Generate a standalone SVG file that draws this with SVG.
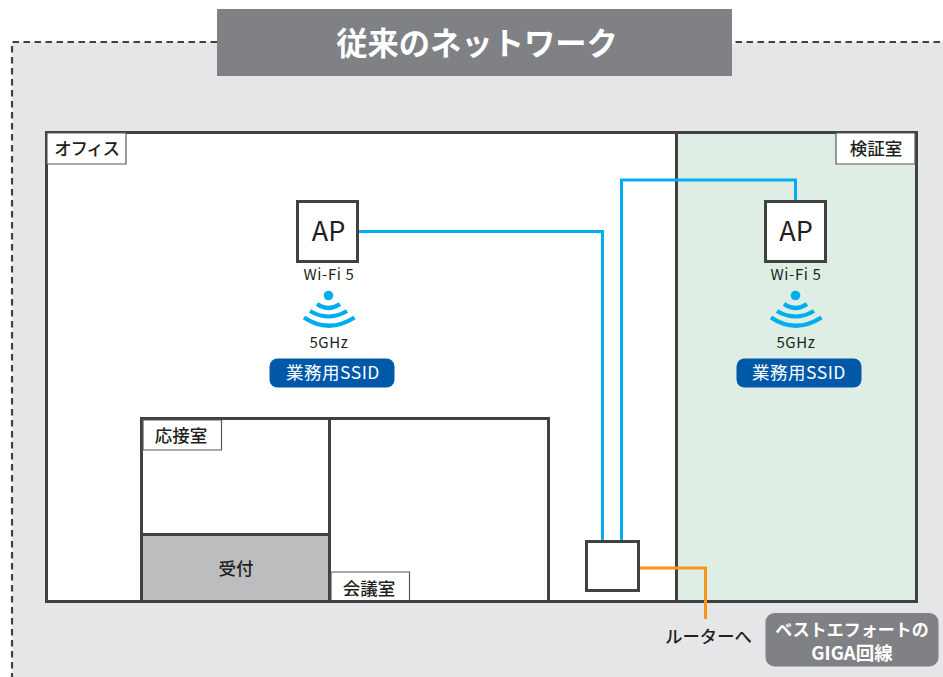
<svg xmlns="http://www.w3.org/2000/svg" width="943" height="677" viewBox="0 0 943 677">
<style>
text{font-family:"Noto Sans CJK JP","Noto Sans",sans-serif;text-anchor:middle;fill:#231f20}
.room{stroke:#414141;stroke-width:3;fill:#fff}
.tag{fill:#fff;stroke:#595959;stroke-width:1.2}
.blue{fill:none;stroke:#00aeef;stroke-width:3}
.org{fill:none;stroke:#f7941d;stroke-width:3}
.wifi{fill:none;stroke:#00aeef;stroke-width:4.200}
.lab{font-size:17.500px;font-weight:500}
.small{font-size:15px;letter-spacing:.6px}
.ssid{font-size:17.500px;fill:#fff;letter-spacing:.5px}
.ap{font-size:27px}
.badge{fill:#fff;font-weight:700}
.dash{fill:none;stroke:#414141;stroke-width:2.200;stroke-dasharray:6.500 4.500}
</style>
<g id="background">
<rect x="12" y="42" width="931" height="635" fill="#e5e6e8"/>
<rect x="732" y="41" width="3.500" height="3" fill="#fff"/>
<path class="dash" d="M217 42H12V677"/>
<path class="dash" d="M735.500 42H943"/>
</g>
<g id="title">
<rect x="217" y="9" width="515" height="67" fill="#808184"/>
<text x="477" y="55" style="fill:#fff;font-size:31.300px;font-weight:700">従来のネットワーク</text>
</g>
<g id="office">
<rect class="room" x="46.500" y="132.500" width="630" height="469"/>
<path class="tag" d="M47 164H126V133H47Z"/>
<text x="86.500" y="155" class="lab" style="letter-spacing:-1.300px">オフィス</text>
</g>
<g id="lab-room">
<rect x="676.500" y="132.500" width="240" height="469" fill="#dfeee4" stroke="#414141" stroke-width="3"/>
<path class="tag" d="M915 164H836V133H915Z"/>
<text x="876" y="155" class="lab">検証室</text>
</g>
<g id="reception-room">
<rect class="room" x="141.500" y="418.500" width="188" height="116"/>
<path class="tag" d="M143 450H221.500V420H143Z"/>
<text x="181" y="441.500" class="lab">応接室</text>
</g>
<g id="front-desk">
<rect x="141.500" y="534.500" width="188" height="67" fill="#bbbdbf" stroke="#414141" stroke-width="3"/>
<text x="236" y="575" class="lab">受付</text>
</g>
<g id="meeting-room">
<rect class="room" x="329.500" y="418.500" width="219" height="183"/>
<path class="tag" d="M331 600V572H409.500V600"/>
<text x="369" y="594.500" class="lab">会議室</text>
</g>
<g id="connectors">
<path class="blue" d="M358 231.500H602.500V541"/>
<path class="blue" d="M621.500 541V180H795.500V201"/>
<path class="org" d="M639 568H705.500V619"/>
</g>
<g id="ap-office">
<rect x="297.500" y="201.500" width="60" height="60" fill="#fff" stroke="#414141" stroke-width="3"/>
<text x="328.500" y="241" class="ap">AP</text>
<text x="329" y="280" class="small">Wi-Fi 5</text>
<circle cx="328.500" cy="295.500" r="4.800" fill="#00aeef"/>
<path class="wifi" d="M317 304Q328.500 312 340 304M310 311Q328.500 322 347 311M304 317.500Q328.500 334 354.500 317.500"/>
<text x="329" y="348" class="small">5GHz</text>
<rect x="269.500" y="358.500" width="125" height="29" rx="8" fill="#0059a8"/>
<text x="333" y="379" class="ssid">業務用SSID</text>
</g>
<g id="ap-lab">
<rect x="765.500" y="201.500" width="60" height="60" fill="#fff" stroke="#414141" stroke-width="3"/>
<text x="796" y="241" class="ap">AP</text>
<text x="796" y="280" class="small">Wi-Fi 5</text>
<circle cx="795.500" cy="295.500" r="4.800" fill="#00aeef"/>
<path class="wifi" d="M784 304Q795.500 312 807 304M777 311Q795.500 322 814 311M771 317.500Q795.500 334 821.500 317.500"/>
<text x="796" y="348" class="small">5GHz</text>
<rect x="736.500" y="358.500" width="125" height="29" rx="8" fill="#0059a8"/>
<text x="799" y="379" class="ssid">業務用SSID</text>
</g>
<g id="router">
<rect x="586.500" y="541.500" width="52" height="49" fill="#fff" stroke="#414141" stroke-width="3"/>
</g>
<g id="router-label">
<text x="708.500" y="643" style="font-size:17.300px;font-weight:500">ルーターへ</text>
</g>
<g id="giga-badge">
<rect x="765.500" y="613" width="173" height="53.500" rx="9" fill="#808184"/>
<text x="852" y="636" class="badge" style="font-size:17px">ベストエフォートの</text>
<text x="852" y="659.500" class="badge" style="font-size:18.500px">GIGA回線</text>
</g>
</svg>
